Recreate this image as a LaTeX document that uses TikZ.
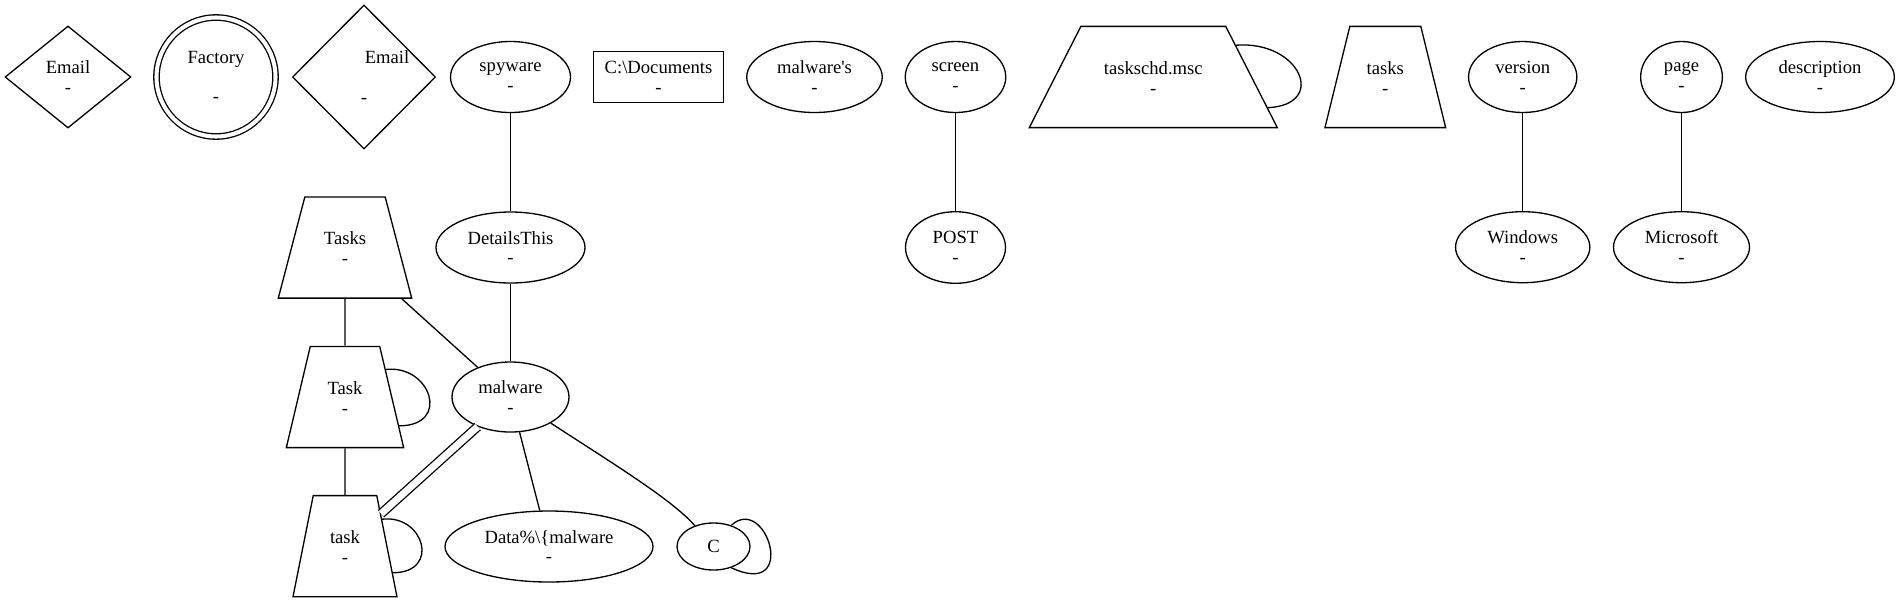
\documentclass[tikz,border=0pt]{standalone}
\usepackage{fontspec}
\setmainfont{Liberation Serif}[Ligatures=TeXOff]
\usetikzlibrary{shapes.geometric}

% two-line label with fixed row height
\newcommand{\trlabel}[1]{\raisebox{0pt}[15.9pt][6.7pt]{\begin{tabular}{@{}c@{}}#1\\-\end{tabular}}}

\begin{document}
\begin{tikzpicture}[x=0.02cm, y=-0.02cm, line width=0.75pt,
    gnode/.style={draw, inner sep=0pt, align=center, font=\fontsize{10.6}{11.3}\selectfont},
    ell/.style 2 args={gnode, ellipse, minimum width=#1*0.02cm, minimum height=#2*0.02cm},
    dia/.style 2 args={gnode, diamond, minimum width=#1*0.02cm, minimum height=#2*0.02cm},
    trap/.style 2 args={gnode, trapezium, trapezium stretches body=true,
        trapezium left angle=#2, trapezium right angle=#2,
        inner ysep=17.5pt, minimum width=#1*0.02cm}]
    % Canvas in pixels, y pointing down
    \useasboundingbox (0,0) rectangle (1900,603);

    % Top row
    \node[dia={126}{102}] (email1) at (68,77) {Email\\-};
    \node[gnode, circle, double, double distance=2.3pt, minimum size=119*0.02cm] (factory) at (216,77) {Factory\\[11.3pt]-};
    \node[dia={126}{144}] (email2) at (364,77) {\hspace*{0.92cm}Email\\[11.3pt]-};
    \node[ell={120}{71}] (spyware) at (510.5,77) {spyware\\-};
    \node[gnode, minimum width=130*0.02cm, minimum height=50.5*0.02cm] (docs) at (658.5,77) {C:\textbackslash Documents\\-};
    \node[ell={135.5}{71}] (malwares) at (814.5,77) {malware's\\-};
    \node[ell={100.5}{71}] (screen) at (955.5,77) {screen\\-};
    \node[trap={248}{63}] (tschd) at (1153.3,77) {\trlabel{taskschd.msc}};
    \node[trap={120.7}{76.2}] (tasks) at (1385.3,77) {\trlabel{tasks}};
    \node[ell={108.3}{71}] (version) at (1522.7,77) {version\\-};
    \node[ell={81.7}{71}] (page) at (1681.5,77) {page\\-};
    \node[ell={148.7}{71}] (descr) at (1820,77) {description\\-};

    % Second row
    \node[trap={133.4}{75.3}] (Tasks) at (345,247.5) {\trlabel{Tasks}};
    \node[ell={149}{71}] (details) at (510.5,247.5) {DetailsThis\\-};
    \node[ell={100}{71.6}] (post) at (955.5,247.5) {POST\\-};
    \node[ell={134.3}{71}] (windows) at (1522.7,247.2) {Windows\\-};
    \node[ell={136}{71}] (microsoft) at (1681.5,247.2) {Microsoft\\-};

    % Lower rows
    \node[trap={117.3}{76.7}] (Task) at (345,397) {\trlabel{Task}};
    \node[ell={117}{70}] (malware) at (510.5,397) {malware\\-};
    \node[trap={104}{78.7}] (task) at (345,546.2) {\trlabel{task}};
    \node[ell={208}{71}] (data) at (549,546.5) {Data\%\textbackslash\{malware\\-};
    \node[ell={73}{47}] (C) at (713.5,546.5) {C};

    % Edges
    \draw (spyware) -- (details);
    \draw (details) -- (malware);
    \draw (screen) -- (post);
    \draw (version) -- (windows);
    \draw (page) -- (microsoft);
    \draw (Tasks) -- (Task);
    \draw (Task) -- (task);
    \draw (Tasks) -- (malware);
    \draw[double, double distance=4pt] (task) -- (malware);
    \draw (malware) -- (data);
    \draw (malware) .. controls (620,468) and (672,500) .. (C);

    % Self loops
    \draw (tschd.21) .. controls +(64,-5) and +(60,-3) .. (tschd.-15);
    \draw (Task.34) .. controls +(45,-5) and +(52,0) .. (Task.-28);
    \draw (task.36) .. controls +(42,-5) and +(48,0) .. (task.-29);
    \draw (C.50) .. controls +(35,-32) and +(68,32) .. (C.-50);
\end{tikzpicture}
\end{document}
